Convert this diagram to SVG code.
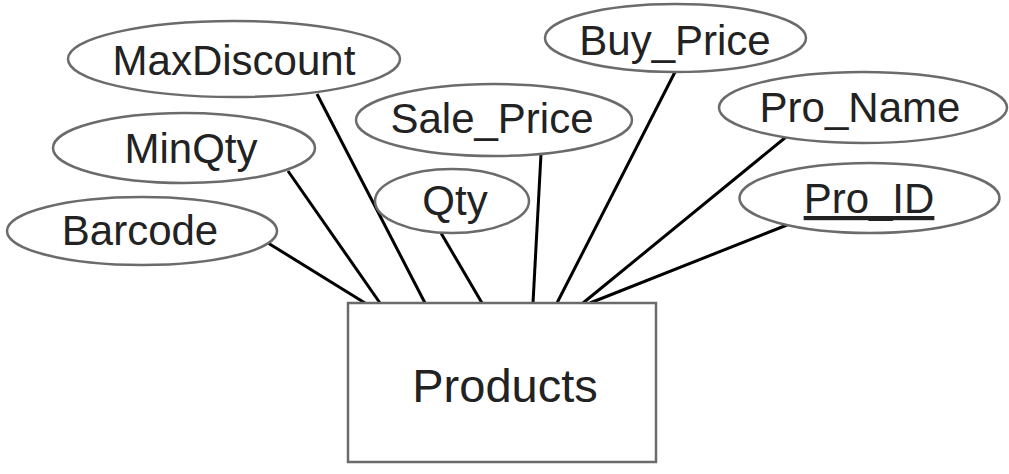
<svg xmlns="http://www.w3.org/2000/svg" width="1009" height="474" viewBox="0 0 1009 474">
<style>
.attr{fill:#fff;stroke:#6b6b6b;stroke-width:2.5}
.ent{fill:#fff;stroke:#6b6b6b;stroke-width:2.5}
.lbl{font-family:"Liberation Sans",Arial,sans-serif;font-size:42px;fill:#222;text-anchor:middle}
.conn line{stroke:#000;stroke-width:3}
</style>
<rect width="1009" height="474" fill="#fff"/>
<g id="connectors" class="conn">
<line x1="268" y1="243" x2="365" y2="303"/>
<line x1="288" y1="171" x2="380" y2="303"/>
<line x1="317" y1="94" x2="425" y2="303"/>
<line x1="441" y1="233" x2="482" y2="303"/>
<line x1="541" y1="154" x2="533" y2="303"/>
<line x1="675" y1="72" x2="557" y2="303"/>
<line x1="786" y1="137" x2="583" y2="303"/>
<line x1="787" y1="225" x2="590" y2="303"/>
</g>
<g id="Products">
<rect class="ent" x="348" y="303" width="308" height="159"/>
<text class="lbl" x="505" y="402" style="font-size:47px">Products</text>
</g>
<g id="MaxDiscount">
<ellipse class="attr" cx="234" cy="59" rx="166" ry="38"/>
<text class="lbl" x="234" y="75">MaxDiscount</text>
</g>
<g id="MinQty">
<ellipse class="attr" cx="184" cy="148" rx="131" ry="35"/>
<text class="lbl" x="191" y="163">MinQty</text>
</g>
<g id="Barcode">
<ellipse class="attr" cx="142" cy="231" rx="135" ry="34"/>
<text class="lbl" x="140" y="245">Barcode</text>
</g>
<g id="Sale_Price">
<ellipse class="attr" cx="494" cy="120" rx="138" ry="36"/>
<text class="lbl" x="492" y="133">Sale_Price</text>
</g>
<g id="Qty">
<ellipse class="attr" cx="452" cy="201" rx="77" ry="32"/>
<text class="lbl" x="455" y="215">Qty</text>
</g>
<g id="Buy_Price">
<ellipse class="attr" cx="675.5" cy="38" rx="130.5" ry="34"/>
<text class="lbl" x="675" y="55">Buy_Price</text>
</g>
<g id="Pro_Name">
<ellipse class="attr" cx="863" cy="107.5" rx="144" ry="35.5"/>
<text class="lbl" x="860" y="122">Pro_Name</text>
</g>
<g id="Pro_ID">
<ellipse class="attr" cx="869.5" cy="198" rx="130" ry="35"/>
<text class="lbl" x="869" y="213" text-decoration="underline">Pro_ID</text>
</g>
</svg>
